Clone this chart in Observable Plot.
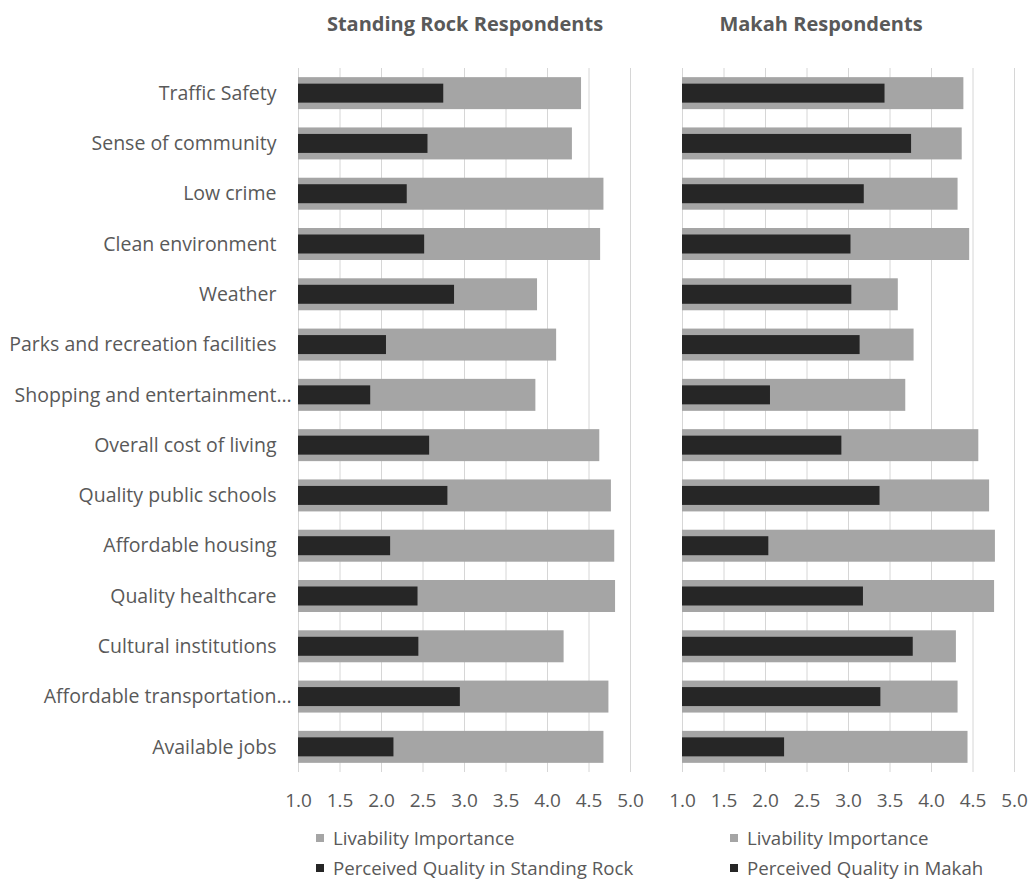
<!DOCTYPE html>
<html>
<head>
<meta charset="utf-8">
<script src="https://cdn.jsdelivr.net/npm/d3@7"></script>
<script src="https://cdn.jsdelivr.net/npm/@observablehq/plot@0.6"></script>
<style>
  body { margin: 0; background: #fff; font-family: "Open Sans", sans-serif; color: #595959; }
  #wrap { position: relative; width: 1031px; height: 890px; overflow: hidden; }
  .panel { position: absolute; top: 0; }
  .title { position: absolute; top: 14px; font-size: 20px; font-weight: bold; line-height: 1; white-space: nowrap; transform: translateX(-50%); color: #595959; }
  .legend { position: absolute; font-size: 18.7px; line-height: 19px; white-space: nowrap; color: #595959; }
  .legend .row { display: flex; align-items: center; height: 19px; margin-bottom: 11px; }
  .legend .sw { display: inline-block; width: 8px; height: 8px; margin-right: 9px; }
</style>
</head>
<body>
<div id="wrap"></div>
<script>
// ---- data ----
const categories = [
  "Traffic Safety",
  "Sense of community",
  "Low crime",
  "Clean environment",
  "Weather",
  "Parks and recreation facilities",
  "Shopping and entertainment…",
  "Overall cost of living",
  "Quality public schools",
  "Affordable housing",
  "Quality healthcare",
  "Cultural institutions",
  "Affordable transportation…",
  "Available jobs"
];
const standingRockImportance = [4.41, 4.30, 4.68, 4.64, 3.88, 4.11, 3.86, 4.63, 4.77, 4.81, 4.82, 4.20, 4.74, 4.68];
const standingRockQuality    = [2.75, 2.56, 2.31, 2.52, 2.88, 2.06, 1.87, 2.58, 2.80, 2.11, 2.44, 2.45, 2.95, 2.15];
const makahImportance        = [4.39, 4.37, 4.32, 4.46, 3.60, 3.79, 3.69, 4.57, 4.70, 4.77, 4.76, 4.30, 4.32, 4.44];
const makahQuality           = [3.44, 3.76, 3.19, 3.03, 3.04, 3.14, 2.06, 2.92, 3.38, 2.04, 3.18, 3.78, 3.39, 2.23];
const xTicks = [1.0, 1.5, 2.0, 2.5, 3.0, 3.5, 4.0, 4.5, 5.0];
const xMin = 1.0;
const panelTitles = ["Standing Rock Respondents", "Makah Respondents"];
const legendImportance = "Livability Importance";
const legendQuality = ["Perceived Quality in Standing Rock", "Perceived Quality in Makah"];

// ---- styles ----
const GRAY = "#a5a5a5", DARK = "#262626", GRID = "#d6d6d6", TEXT = "#595959";
const FONT = "'Open Sans', sans-serif";

function panel(imp, qual, {width, marginLeft, marginRight, showLabels}) {
  const data = categories.map((c, i) => ({c, imp: imp[i], q: qual[i]}));
  const marks = [
    Plot.ruleX(xTicks, {stroke: GRID, strokeWidth: 1}),
    Plot.barX(data, {y: "c", x1: () => xMin, x2: "imp", fill: GRAY}),
    Plot.barX(data, {y: "c", x1: () => xMin, x2: "q", fill: DARK, insetTop: 6.5, insetBottom: 6.5})
  ];
  if (showLabels) {
    marks.push(
      Plot.text(categories, {y: d => d, text: d => d.replace("…", ""), frameAnchor: "left", textAnchor: "end", dx: -22, fontSize: 19.5, fill: TEXT}),
      Plot.text(categories.filter(d => d.endsWith("…")), {y: d => d, text: () => "…", frameAnchor: "left", textAnchor: "start", dx: -22, fontSize: 19.5, fill: TEXT})
    );
  }
  return Plot.plot({
    width, height: 820,
    marginTop: 68, marginBottom: 48, marginLeft, marginRight,
    style: {fontFamily: FONT, fontSize: "19px", color: TEXT, background: "transparent", overflow: "visible"},
    x: {domain: [1, 5], ticks: xTicks, tickFormat: d3.format(".1f"), tickSize: 0, tickPadding: 21, label: null},
    y: {domain: categories, paddingInner: 0.364, paddingOuter: 0.182, round: false, axis: null, label: null},
    marks
  });
}

const wrap = document.getElementById("wrap");

const left = panel(standingRockImportance, standingRockQuality, {width: 640, marginLeft: 298, marginRight: 10, showLabels: true});
left.classList.add("panel");
left.style.left = "0px";
wrap.appendChild(left);

const right = panel(makahImportance, makahQuality, {width: 391, marginLeft: 42, marginRight: 17, showLabels: false});
right.classList.add("panel");
right.style.left = "640px";
wrap.appendChild(right);

// titles
[[panelTitles[0], 465], [panelTitles[1], 821]].forEach(([t, cx]) => {
  const d = document.createElement("div");
  d.className = "title";
  d.textContent = t;
  d.style.left = cx + "px";
  wrap.appendChild(d);
});

// legends
[[316, legendQuality[0]], [730, legendQuality[1]]].forEach(([lx, q]) => {
  const lg = document.createElement("div");
  lg.className = "legend";
  lg.style.left = lx + "px";
  lg.style.top = "828px";
  lg.innerHTML =
    `<div class="row"><span class="sw" style="background:${GRAY}"></span>${legendImportance}</div>` +
    `<div class="row"><span class="sw" style="background:${DARK}"></span>${q}</div>`;
  wrap.appendChild(lg);
});
</script>
</body>
</html>
